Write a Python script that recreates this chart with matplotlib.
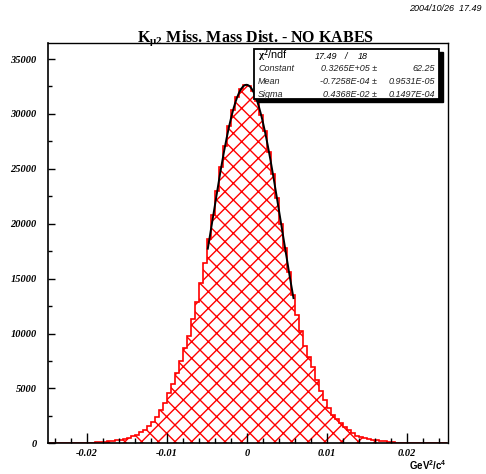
import numpy as np
import matplotlib
matplotlib.use("Agg")
import matplotlib.pyplot as plt
from matplotlib.patches import Rectangle
from matplotlib.ticker import MultipleLocator, FixedLocator

# ---------------- data ----------------
bin_lo, bin_hi, n_bins = -0.025, 0.025, 100
# counts, left half (listed from x=0 outward) and right half
left_counts_outward = [32600, 32250, 31500, 30350, 28900, 27100, 25150, 23000, 20800, 18600,
                       16450, 14600, 12900, 11300, 9800, 8700, 7500, 6400, 5400, 4600,
                       3700, 3000, 2400, 1950, 1600, 1250, 1000, 800, 640, 520,
                       420, 340, 270, 210, 165, 130, 100, 75, 55, 40,
                       28, 18, 12, 8, 5, 3, 2, 1, 1, 0]
right_counts = [32550, 32100, 31200, 29900, 28400, 26500, 24500, 22300, 20000, 17800,
                15600, 13500, 11700, 10200, 8900, 7900, 6950, 5800, 4750, 3950,
                3200, 2600, 2250, 1850, 1520, 1250, 950, 700, 600, 520,
                420, 340, 280, 230, 180, 130, 90, 60, 35, 20,
                12, 7, 4, 2, 1, 1, 0, 0, 0, 0]
counts = list(reversed(left_counts_outward)) + right_counts

fit_constant = 0.3265e5
fit_mean = -0.7258e-4
fit_sigma = 0.4368e-2
fit_range = (-0.0049, 0.0058)

x_ticks = [-0.02, -0.01, 0, 0.01, 0.02]
x_tick_labels = ["-0.02", "-0.01", "0", "0.01", "0.02"]
y_ticks = [0, 5000, 10000, 15000, 20000, 25000, 30000, 35000]
y_tick_labels = [str(v) for v in y_ticks]

stats_rows = [("Constant", "0.3265E+05 \u00b1", "62.25"),
              ("Mean", "-0.7258E-04 \u00b1", "0.9531E-05"),
              ("Sigma", "0.4368E-02 \u00b1", "0.1497E-04")]

# ---------------- figure ----------------
W, H = 486, 474
fig = plt.figure(figsize=(W / 100, H / 100), dpi=100)
plt.rcParams['hatch.color'] = 'red'
plt.rcParams['hatch.linewidth'] = 1.0
plt.rcParams['mathtext.fontset'] = 'custom'
plt.rcParams['mathtext.rm'] = 'Liberation Serif:bold'
plt.rcParams['mathtext.it'] = 'Liberation Serif:bold'

def fx(px):
    return px / W

def fy(py):
    return 1 - py / H

L, R, T, B = 47.7, 448, 43.3, 443.3
ax = fig.add_axes([fx(L), fy(B), (R - L) / W, (B - T) / H])
edges = np.linspace(bin_lo, bin_hi, n_bins + 1)
ax.stairs(counts, edges, fill=True, facecolor='none', edgecolor='red',
          hatch='xx', linewidth=0)
ax.stairs(counts, edges, fill=False, color='red', linewidth=1.2)

xf = np.linspace(fit_range[0], fit_range[1], 200)
yf = fit_constant * np.exp(-0.5 * ((xf - fit_mean) / fit_sigma) ** 2)
ax.plot(xf, yf, color='black', linewidth=1.4)

ax.set_xlim(-0.0249, 0.0251)
ax.set_ylim(0, 36430)
for s in ['top', 'right']:
    ax.spines[s].set_linewidth(1.0)
for s in ['left', 'bottom']:
    ax.spines[s].set_linewidth(1.2)

ax.xaxis.set_major_locator(FixedLocator(x_ticks))
ax.set_xticklabels(x_tick_labels)
ax.xaxis.set_minor_locator(MultipleLocator(0.002))
ax.yaxis.set_major_locator(FixedLocator(y_ticks))
ax.set_yticklabels(y_tick_labels)
ax.yaxis.set_minor_locator(MultipleLocator(2500))
ax.tick_params(axis='both', which='both', direction='in', top=False, right=False)
ax.tick_params(axis='x', which='major', length=7, width=1, pad=4)
ax.tick_params(axis='x', which='minor', length=3.5, width=1)
ax.tick_params(axis='y', which='major', length=5, width=1, pad=8)
ax.tick_params(axis='y', which='minor', length=3, width=1)
for lab in ax.get_xticklabels() + ax.get_yticklabels():
    lab.set_fontfamily('Liberation Serif')
    lab.set_fontweight('bold')
    lab.set_fontstyle('italic')
    lab.set_fontsize(7.5)

# axis title
fig.text(fx(447), fy(470), "GeV$^{\\mathregular{2}}$/c$^{\\mathregular{4}}$",
         ha='right', va='baseline', fontsize=7, fontfamily='Liberation Sans',
         fontweight='bold')

# title
fig.text(fx(255), fy(42), "$\\mathrm{K}_{\\mu 2}$ Miss. Mass Dist. - NO KABES",
         ha='center', va='baseline', fontsize=11.5, fontfamily='Liberation Serif',
         fontweight='bold')

# date
fig.text(fx(482), fy(11), "2004/10/26  17.49", ha='right', va='baseline',
         fontsize=6.5, fontfamily='Liberation Sans', fontstyle='italic')

# stats box
bx0, by0, bx1, by1 = 254, 49, 439, 99
sh = 4
fig.patches.append(Rectangle((fx(bx0 + sh), fy(by1 + sh - 1)), (bx1 - bx0) / W, (by1 - by0) / H,
                             transform=fig.transFigure, facecolor='black',
                             edgecolor='black', zorder=5))
fig.patches.append(Rectangle((fx(bx0), fy(by1)), (bx1 - bx0) / W, (by1 - by0) / H,
                             transform=fig.transFigure, facecolor='white',
                             edgecolor='black', linewidth=1.3, zorder=6))
fs = 6.5
fig.text(fx(258), fy(59), "$\\chi^2$/ndf", ha='left', va='baseline', fontsize=7.8,
         fontfamily='Liberation Sans', zorder=7)
fig.text(fx(315), fy(59), "17.49", ha='left', va='baseline', fontsize=fs,
         fontfamily='Liberation Sans', fontstyle='italic', zorder=7)
fig.text(fx(345), fy(59), "/", ha='left', va='baseline', fontsize=fs,
         fontfamily='Liberation Sans', fontstyle='italic', zorder=7)
fig.text(fx(358), fy(59), "18", ha='left', va='baseline', fontsize=fs,
         fontfamily='Liberation Sans', fontstyle='italic', zorder=7)
row_y = [71, 84, 97]
for (name, val, err), yy in zip(stats_rows, row_y):
    fig.text(fx(258), fy(yy), name, ha='left', va='baseline', fontsize=fs,
             fontfamily='Liberation Sans', fontstyle='italic', color='#222222', zorder=7)
    fig.text(fx(377), fy(yy), val, ha='right', va='baseline', fontsize=fs,
             fontfamily='Liberation Sans', fontstyle='italic', color='#222222', zorder=7)
    fig.text(fx(435), fy(yy), err, ha='right', va='baseline', fontsize=fs,
             fontfamily='Liberation Sans', fontstyle='italic', color='#222222', zorder=7)

fig.savefig("out.png", dpi=100, facecolor='white')
